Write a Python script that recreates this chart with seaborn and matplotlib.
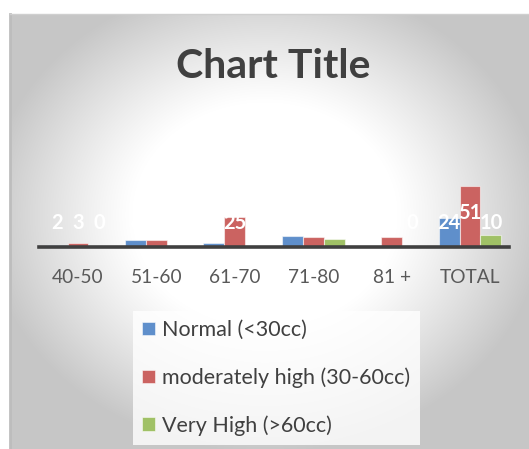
import numpy as np
import pandas as pd
import matplotlib
matplotlib.use("Agg")
import matplotlib.pyplot as plt
from matplotlib.patches import Patch
import seaborn as sns

# ---- data ----
age_groups = ["40-50", "51-60", "61-70", "71-80", "81 +", "TOTAL"]
series_names = ["Normal (<30cc)", "moderately high (30-60cc)", "Very High (>60cc)"]
normal = [2, 6, 3, 9, 0, 24]
moderately_high = [3, 6, 25, 8, 8, 51]
very_high = [0, 0, 0, 7, 0, 10]
series_colors = ["#5F8FCB", "#CB6361", "#A0C166"]

df = pd.DataFrame({
    "age": age_groups * 3,
    "series": sum([[s] * len(age_groups) for s in series_names], []),
    "count": normal + moderately_high + very_high,
})

sns.set_theme(style="white")
plt.rcParams["font.family"] = ["Lato", "DejaVu Sans"]

W, H = 529, 449
fig = plt.figure(figsize=(W / 100, H / 100), dpi=100)
fig.patch.set_facecolor("white")

# ---- chart area with radial gradient fill ----
x0, y0 = 10, 14
bg = fig.add_axes([x0 / W, 0, (W - x0) / W, (H - y0) / H])
xs = np.arange(x0, W) + 0.5
ys = np.arange(y0, H) + 0.5
X, Y = np.meshgrid(xs, ys)
cx, cy = 265, 215
r = np.sqrt(((X - cx) / 265) ** 2 + ((Y - cy) / 225) ** 2)
t = np.clip((r - 0.5) / 0.55, 0, 1)
shade = 1 - 0.22 * t ** 1.1
img = np.dstack([shade] * 3)
bg.imshow(img, aspect="auto", extent=(0, 1, 0, 1), origin="upper", interpolation="bilinear")
bg.set_xlim(0, 1)
bg.set_ylim(0, 1)
bg.set_xticks([])
bg.set_yticks([])
for side in ["right", "bottom"]:
    bg.spines[side].set_visible(False)
bg.spines["left"].set_color("#bdbdbd")
bg.spines["left"].set_linewidth(2.0)
bg.spines["top"].set_color("#cfcfcf")
bg.spines["top"].set_linewidth(1.0)

# ---- title ----
fig.text(273 / W, 1 - 66 / H, "Chart Title", ha="center", va="center",
         fontsize=29.5, fontweight="bold", color="#404040")

# ---- bars ----
px_per_unit = 1.19
ymax = 60
ax_left, ax_right, base = 38.8, 509.2, 247
ax = fig.add_axes([ax_left / W, (H - base) / H, (ax_right - ax_left) / W,
                   ymax * px_per_unit / H])
ax.patch.set_alpha(0)
sns.barplot(data=df, x="age", y="count", hue="series", hue_order=series_names,
            palette=series_colors, saturation=1, width=0.8, gap=0,
            edgecolor=(1, 1, 1, 0.55), linewidth=0.8, legend=False, ax=ax)
ax.set_xlim(-0.5, len(age_groups) - 0.5)
ax.set_ylim(0, ymax)
ax.set_xlabel("")
ax.set_ylabel("")
ax.set_yticks([])
ax.tick_params(axis="x", length=0, pad=16, labelsize=13.8, labelcolor="#595959")
for side in ["left", "right", "top"]:
    ax.spines[side].set_visible(False)
ax.spines["bottom"].set_color("#404040")
ax.spines["bottom"].set_linewidth(2.6)
ax.spines["bottom"].set_zorder(5)

# data labels (white, bold)
for container in ax.containers:
    for bar in container:
        v = bar.get_height()
        xc = bar.get_x() + bar.get_width() / 2
        yl = max(v / 2 + 3, 20)
        ax.text(xc, yl, f"{v:g}", ha="center", va="center", color="white",
                fontsize=14.5, fontweight="bold", zorder=6, clip_on=False)

# ---- legend ----
handles = [Patch(facecolor=c, edgecolor=(1, 1, 1, 0.6), linewidth=0.6) for c in series_colors]
leg = fig.legend(handles, series_names, loc="upper left",
                 bbox_to_anchor=(133 / W, 1 - 311 / H), ncol=1,
                 fontsize=15.5, labelcolor="#404040", frameon=True, fancybox=False,
                 handlelength=0.6, handleheight=0.6, handletextpad=0.35,
                 labelspacing=1.27, borderpad=0.42, borderaxespad=0)
frame = leg.get_frame()
frame.set_facecolor((1, 1, 1, 0.3))
frame.set_edgecolor("none")

fig.savefig("out.png", dpi=100)
